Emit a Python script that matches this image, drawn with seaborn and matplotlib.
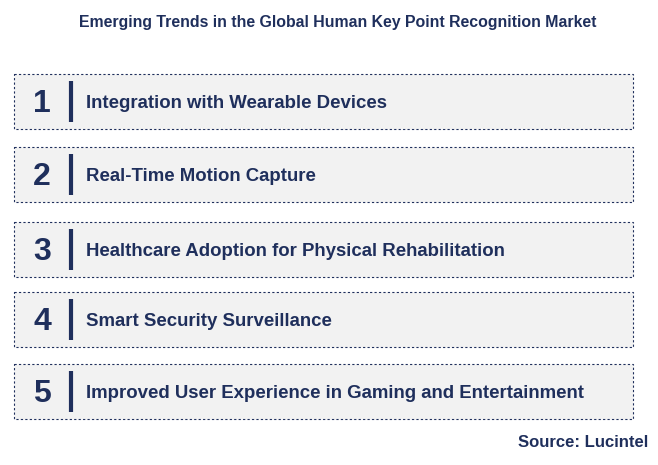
import matplotlib.pyplot as plt
import seaborn as sns
from matplotlib.patches import Rectangle

numbers = ["1", "2", "3", "4", "5"]
trends = [
    "Integration with Wearable Devices",
    "Real-Time Motion Capture",
    "Healthcare Adoption for Physical Rehabilitation",
    "Smart Security Surveillance",
    "Improved User Experience in Gaming and Entertainment",
]
box_tops = [74, 147, 222, 292, 364]
title = "Emerging Trends in the Global Human Key Point Recognition Market"
source = "Source: Lucintel"

NAVY = "#1f2f5c"

sns.set_theme(style="white", font="Liberation Sans")
fig = plt.figure(figsize=(6.58, 4.65), dpi=100)
ax = fig.add_axes([0, 0, 1, 1])
ax.set_xlim(0, 658)
ax.set_ylim(465, 0)
ax.axis("off")

ax.text(338, 23, title, ha="center", va="center", fontsize=11.4,
        fontweight="bold", color=NAVY)

for num, label, top in zip(numbers, trends, box_tops):
    h = 55
    ax.add_patch(Rectangle((14, top), 619, h, facecolor="#f2f2f2",
                           edgecolor=NAVY, linestyle=(0, (2, 2)), linewidth=0.8))
    cy = top + h / 2
    ax.text(42, cy + 2, num, ha="center", va="center", fontsize=23,
            fontweight="bold", color=NAVY)
    ax.plot([71, 71], [top + 7, top + h - 7], color=NAVY, linewidth=3,
            solid_capstyle="butt")
    ax.text(86, cy + 2, label, ha="left", va="center", fontsize=13.4,
            fontweight="bold", color=NAVY)

ax.text(648, 442, source, ha="right", va="center", fontsize=12,
        fontweight="bold", color=NAVY)

fig.savefig("out.png", dpi=100)
